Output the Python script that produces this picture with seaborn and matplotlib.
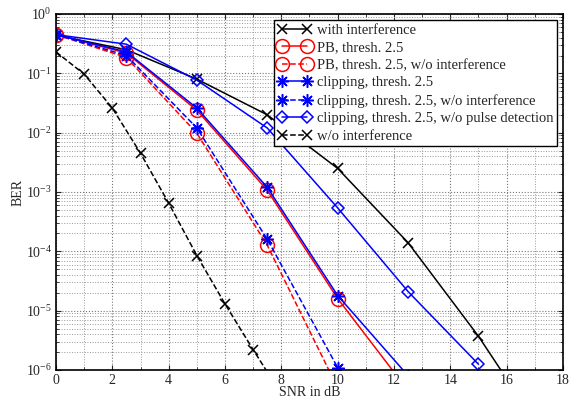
import numpy as np
import pandas as pd
import matplotlib
matplotlib.use("Agg")
import matplotlib.pyplot as plt
import seaborn as sns
from matplotlib.ticker import LogLocator, MultipleLocator, NullFormatter, FixedLocator

# SNR grid (dB)
snr_main = [0, 2.5, 5, 7.5, 10, 12.5, 15, 17.5]
snr_fine = [0, 1, 2, 3, 4, 5, 6, 7, 8]

# BER values
ber_with_interf = [0.44, 0.25, 0.08, 0.02, 2.5e-3, 1.4e-4, 3.7e-6, 6e-8]
ber_pb = [0.45, 0.22, 0.024, 1.07e-3, 1.6e-5, 4.5e-7]
ber_pb_no_interf = [0.45, 0.185, 9.8e-3, 1.27e-4, 5e-7]
ber_clip = [0.45, 0.23, 0.026, 1.2e-3, 1.8e-5, 8e-7]
ber_clip_no_interf = [0.45, 0.2, 0.012, 1.6e-4, 1.1e-6]
ber_clip_no_pd = [0.45, 0.31, 0.077, 0.012, 5.4e-4, 2.1e-5, 1.25e-6]
ber_no_interf = [0.23, 0.097, 0.026, 4.5e-3, 6.5e-4, 8.5e-5, 1.3e-5, 2.2e-6, 3.9e-7]

# y-axis decades shown
y_decades = [1e-6, 1e-5, 1e-4, 1e-3, 1e-2, 1e-1, 1e0]

sns.set_style("ticks")
plt.rcParams['font.family'] = ['Liberation Serif', 'DejaVu Serif']
plt.rcParams['mathtext.fontset'] = 'stix'

fig = plt.figure(figsize=(5.75, 4.01), dpi=100)
ax = fig.add_axes([0.0974, 0.0773, 0.8817, 0.8877])

asterisk = (8, 2, 0)
series = [
    ("with interference", snr_main, ber_with_interf, "black", "-", "x", 7),
    ("PB, thresh. 2.5", snr_main, ber_pb, "red", "-", "o", 10),
    ("PB, thresh. 2.5, w/o interference", snr_main, ber_pb_no_interf, "red", "--", "o", 10),
    ("clipping, thresh. 2.5", snr_main, ber_clip, "blue", "-", asterisk, 9),
    ("clipping, thresh. 2.5, w/o interference", snr_main, ber_clip_no_interf, "blue", "--", asterisk, 9),
    ("clipping, thresh. 2.5, w/o pulse detection", snr_main, ber_clip_no_pd, "blue", "-", "D", 6.5),
    ("w/o interference", snr_fine, ber_no_interf, "black", "--", "x", 7),
]

for label, xs, ys, color, ls, mk, ms in series:
    df = pd.DataFrame({"snr": xs[:len(ys)], "ber": ys})
    sns.lineplot(data=df, x="snr", y="ber", ax=ax, color=color, linestyle=ls,
                 marker=mk, markersize=ms, markerfacecolor="none",
                 markeredgecolor=color, markeredgewidth=1.1, linewidth=1.1,
                 label=label)

ax.set_yscale("log")
ax.set_xlim(0, 18)
ax.set_ylim(1e-6, 1)
ax.xaxis.set_major_locator(MultipleLocator(2))
ax.xaxis.set_minor_locator(MultipleLocator(1))
ax.yaxis.set_major_locator(FixedLocator(y_decades))
ax.yaxis.set_minor_locator(LogLocator(base=10, subs=np.arange(2, 10), numticks=10))
ax.yaxis.set_minor_formatter(NullFormatter())

ax.grid(True, which="major", color="#777777", linestyle=":", linewidth=0.8)
ax.grid(True, which="minor", color="#999999", linestyle=":", linewidth=0.7)
ax.tick_params(which="both", direction="in", labelsize=10, top=True, right=True, pad=3)
ax.tick_params(which="minor", length=2)
for sp in ax.spines.values():
    sp.set_linewidth(1.2)
    sp.set_color("black")

ax.set_xlabel("SNR in dB", fontsize=10, labelpad=-1)
ax.set_ylabel("BER", fontsize=10, labelpad=1)

leg = ax.legend(loc="upper right", fontsize=10.5, frameon=True, fancybox=False,
                edgecolor="black", framealpha=1, handlelength=2.3, numpoints=2,
                borderaxespad=0.4, labelspacing=0.3, borderpad=0.25,
                handletextpad=0.4)
leg.get_frame().set_linewidth(1.0)

fig.savefig("out.png", dpi=100)
